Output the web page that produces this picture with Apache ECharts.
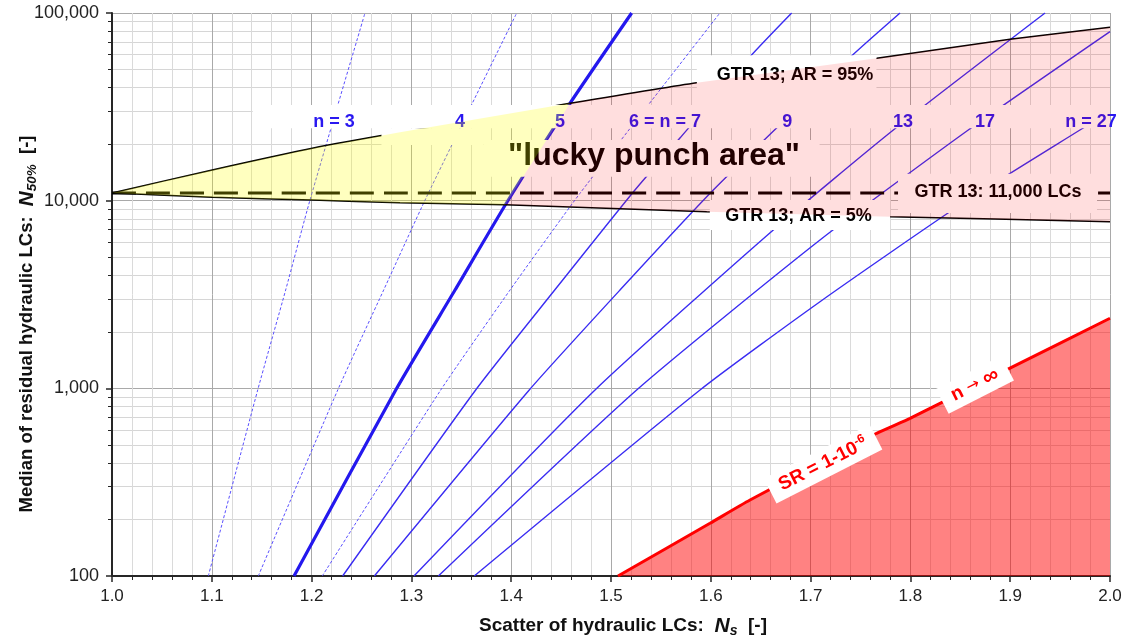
<!DOCTYPE html>
<html><head><meta charset="utf-8">
<script src="https://cdn.jsdelivr.net/npm/echarts@6/dist/echarts.min.js"></script>
<style>html,body{margin:0;padding:0;background:#fff}#c{width:1134px;height:637px}</style>
</head><body><div id="c"></div>
<script>
// ---------- data ----------
const n3X  = [1.0965, 1.146, 1.174, 1.1984, 1.2535];
const n3Y  = [100, 980, 3340, 10080, 100000];
const n4X  = [1.1466, 1.2262, 1.2722, 1.3153, 1.4055];
const n4Y  = [100, 980, 3340, 10500, 100000];
const n5X  = [1.1824, 1.2843, 1.3437, 1.3971, 1.4589, 1.5207];
const n5Y  = [100, 980, 3340, 10080, 33000, 100000];
const n6X  = [1.2107, 1.3294, 1.3988, 1.4689, 1.6091];
const n6Y  = [100, 980, 3340, 10940, 100000];
const n7X  = [1.2311, 1.3644, 1.4436, 1.524, 1.5691, 1.6393, 1.681];
const n7Y  = [100, 980, 3340, 11400, 21570, 58500, 100000];
const n9X  = [1.2629, 1.4181, 1.509, 1.6025, 1.7403, 1.7896];
const n9Y  = [100, 980, 3340, 11400, 58500, 100000];
const n13X = [1.3026, 1.484, 1.6626, 1.7829, 1.9349];
const n13Y = [100, 980, 6980, 23800, 100000];
const n17X = [1.327, 1.5257, 1.7094, 1.858, 2.0];
const n17Y = [100, 980, 6170, 23800, 79500];
const n27X = [1.363, 1.5892, 1.7094, 1.8497, 1.9699, 2.0];
const n27Y = [100, 980, 2895, 9480, 23800, 29800];
const srX  = [1.507, 1.5992, 1.6393, 1.7662, 1.7996, 1.8998, 2.0];
const srY  = [100, 191, 254, 576, 692, 1280, 2362];
const ar95X = [1.0, 1.1005, 1.2007, 1.2886, 1.4589, 1.5858, 1.7662, 1.8998, 2.0];
const ar95Y = [11000, 14570, 19010, 23120, 33000, 42540, 57340, 72450, 83870];
const ar5X  = [1.0, 1.1005, 1.2007, 1.2886, 1.394, 1.5959, 1.7796, 2.0];
const ar5Y  = [11000, 10420, 10080, 9750, 9520, 8735, 8216, 7727];
const gtrX = [1.0, 2.0];
const gtrY = [11000, 11000];

// annotation texts and their anchor values
const nLabelText = ['n = 3', '4', '5', '6 = n = 7', '9', '13', '17', 'n = 27'];
const nLabelX = [1.2224, 1.3487, 1.4489, 1.5541, 1.6767, 1.7926, 1.8747, 1.981];
const nLabelY = [26300, 26300, 26300, 26300, 26300, 26300, 26300, 26300];
const gtrLabelText = ['GTR 13; AR = 95%', 'GTR 13: 11,000 LCs', 'GTR 13; AR = 5%'];
const gtrLabelX = [1.6844, 1.8878, 1.6879];
const gtrLabelY = [46500, 11110, 8233];
const luckyText = ['"lucky punch area"'];
const luckyX = [1.5431];
const luckyY = [17300];
const srLabelText = ['{a|SR = 1-10}{s|-6}', '{a|n }{c|\u2192}{a| }{b|\u221E}'];
const srLabelX = [1.7125, 1.8647];
const srLabelY = [395, 1045];
// white label boxes [x1, y1, x2, y2]
const boxes = [
  [1.141, 24300, 2.0, 32350],
  [1.27, 19800, 1.372, 24300],
  [1.372, 13420, 1.709, 21050],
  [1.586, 32350, 1.766, 59500],
  [1.7876, 8600, 1.987, 13900],
  [1.599, 6980, 1.7796, 10080]
];

// ---------- helpers ----------
const FONT = '"Liberation Sans", Arial, sans-serif';
const zip = (xs, ys) => xs.map((x, i) => [x, ys[i]]);
const BLUE = '#3a2cf2';

function lineSeries(name, xs, ys, style, z) {
  return { name, type: 'line', data: zip(xs, ys), symbol: 'none', silent: true,
    smooth: 0.2,
    lineStyle: style, z: z || 2, clip: true };
}
function labelSeries(name, xs, ys, texts, label, z) {
  return { name, type: 'scatter', data: zip(xs, ys), symbolSize: 1, silent: true,
    itemStyle: { color: 'rgba(0,0,0,0)', opacity: 1 }, z,
    label: Object.assign({ show: true, position: 'inside', fontFamily: FONT, opacity: 1,
      formatter: p => texts[p.dataIndex] }, label) };
}
function polygonSeries(name, pts, fill, z) {
  return { name, type: 'custom', coordinateSystem: 'cartesian2d', silent: true, z,
    data: [pts[0]],
    renderItem: (params, api) => ({ type: 'polygon',
      shape: { points: pts.map(p => api.coord(p)) }, style: { fill } }) };
}

const ar95 = zip(ar95X, ar95Y), ar5 = zip(ar5X, ar5Y);
const yellowPts = ar95.slice(0, 5).concat(ar5.slice(0, 5).reverse());
const pinkPts = ar95.slice(4).concat(ar5.slice(4).reverse());

const fmtThousands = v => String(Math.round(v)).replace(/\B(?=(\d{3})+(?!\d))/g, ',');

const richTitle = size => ({
  b: { fontFamily: FONT, fontSize: size, fontWeight: 'bold', fill: '#111', color: '#111', lineHeight: 24 },
  i: { fontFamily: FONT, fontSize: size + 2, fontWeight: 'bold', fontStyle: 'italic', fill: '#111', color: '#111', lineHeight: 24 },
  sub: { fontFamily: FONT, fontSize: size - 5, fontWeight: 'bold', fontStyle: 'italic', fill: '#111', color: '#111', lineHeight: 14, verticalAlign: 'bottom' }
});

const chart = echarts.init(document.getElementById('c'));
chart.setOption({
  animation: false,
  backgroundColor: '#fff',
  grid: { left: 112, right: 24, top: 13, bottom: 61, containLabel: false },
  xAxis: {
    type: 'value', min: 1.0, max: 2.0, interval: 0.1,
    axisLine: { show: true, onZero: false, lineStyle: { color: '#262626', width: 2 } },
    axisTick: { show: true, length: 6, lineStyle: { color: '#262626', width: 1.5 } },
    minorTick: { show: true, splitNumber: 5, length: 4, lineStyle: { color: '#262626', width: 1 } },
    splitLine: { show: true, lineStyle: { color: '#a9a9a9', width: 1 } },
    minorSplitLine: { show: true, lineStyle: { color: '#dadada', width: 1 } },
    axisLabel: { formatter: v => v.toFixed(1), fontSize: 17, color: '#222', margin: 12, fontFamily: FONT }
  },
  yAxis: {
    type: 'log', logBase: 10, min: 100, max: 100000,
    axisLine: { show: true, onZero: false, lineStyle: { color: '#262626', width: 2 } },
    axisTick: { show: true, length: 6, lineStyle: { color: '#262626', width: 1.5 } },
    minorTick: { show: true, splitNumber: 9, length: 4, lineStyle: { color: '#262626', width: 1 } },
    splitLine: { show: true, lineStyle: { color: '#a9a9a9', width: 1 } },
    minorSplitLine: { show: true, lineStyle: { color: '#d6d6d6', width: 1 } },
    axisLabel: { formatter: v => fmtThousands(v), fontSize: 18, color: '#222', margin: 13, fontFamily: FONT }
  },
  graphic: [
    { type: 'text', x: 27, y: 324, rotation: Math.PI / 2, silent: true,
      style: { text: '{b|Median of residual hydraulic LCs:  }{i|N}{sub|50%}{b|  [-]}',
        align: 'center', verticalAlign: 'middle', textAlign: 'center', textVerticalAlign: 'middle',
        rich: richTitle(18.5) } },
    { type: 'text', x: 623, y: 626, silent: true,
      style: { text: '{b|Scatter of hydraulic LCs:  }{i|N}{sub|s}{b|  [-]}',
        align: 'center', verticalAlign: 'middle', textAlign: 'center', textVerticalAlign: 'middle',
        rich: richTitle(19) } }
  ],
  series: [
    // red n -> infinity line with its area
    { name: 'SR', type: 'line', data: zip(srX, srY), symbol: 'none', silent: true, z: 2,
      smooth: 0.2,
      lineStyle: { color: '#ff0000', width: 3 },
      areaStyle: { color: '#ff0000', opacity: 0.49, origin: 'start' } },
    lineSeries('n=3', n3X, n3Y, { color: '#5a50ff', width: 1, type: [3, 2] }),
    lineSeries('n=4', n4X, n4Y, { color: '#5a50ff', width: 1, type: [3, 2] }),
    lineSeries('n=6', n6X, n6Y, { color: '#5a50ff', width: 1, type: [3, 2] }),
    lineSeries('n=5', n5X, n5Y, { color: '#2418ee', width: 3.2 }),
    lineSeries('n=7', n7X, n7Y, { color: BLUE, width: 1.4 }),
    lineSeries('n=9', n9X, n9Y, { color: BLUE, width: 1.4 }),
    lineSeries('n=13', n13X, n13Y, { color: BLUE, width: 1.4 }),
    lineSeries('n=17', n17X, n17Y, { color: BLUE, width: 1.4 }),
    lineSeries('n=27', n27X, n27Y, { color: BLUE, width: 1.4 }),
    lineSeries('AR95', ar95X, ar95Y, { color: '#000', width: 1.5 }),
    lineSeries('AR5', ar5X, ar5Y, { color: '#000', width: 1.5 }),
    lineSeries('GTR', gtrX, gtrY, { color: '#000', width: 3, type: [24, 10] }),
    // white label boxes
    { name: 'boxes', type: 'custom', coordinateSystem: 'cartesian2d', silent: true, z: 3,
      data: boxes, encode: { x: [0, 2], y: [1, 3] },
      renderItem: (params, api) => {
        const p1 = api.coord([api.value(0), api.value(1)]);
        const p2 = api.coord([api.value(2), api.value(3)]);
        return { type: 'rect', shape: { x: Math.min(p1[0], p2[0]), y: Math.min(p1[1], p2[1]),
          width: Math.abs(p2[0] - p1[0]), height: Math.abs(p2[1] - p1[1]) }, style: { fill: '#ffffff' } };
      } },
    labelSeries('nLabels', nLabelX, nLabelY, nLabelText,
      { fontSize: 18, fontWeight: 'bold', color: '#2a18f0' }, 3.5),
    labelSeries('gtrLabels', gtrLabelX, gtrLabelY, gtrLabelText,
      { fontSize: 18, fontWeight: 'bold', color: '#000' }, 3.5),
    labelSeries('lucky', luckyX, luckyY, luckyText,
      { fontSize: 32, fontWeight: 'bold', color: '#000' }, 3.5),
    // translucent area overlays
    polygonSeries('yellow', yellowPts, 'rgba(255,255,0,0.25)', 4),
    polygonSeries('pink', pinkPts, 'rgba(255,0,0,0.13)', 4),
    // red labels on the n -> infinity line
    labelSeries('srLabels', srLabelX, srLabelY, srLabelText,
      { rotate: 27, backgroundColor: '#fff', padding: [3, 11],
        rich: {
          a: { fontFamily: FONT, fontSize: 19, fontWeight: 'bold', color: '#ff0000', lineHeight: 22 },
          b: { fontFamily: FONT, fontSize: 22, fontWeight: 'bold', color: '#ff0000', lineHeight: 22 },
          c: { fontFamily: '"DejaVu Sans", sans-serif', fontSize: 16, color: '#ff0000', lineHeight: 22 },
          s: { fontFamily: FONT, fontSize: 12, fontWeight: 'bold', color: '#ff0000', lineHeight: 12, verticalAlign: 'top' }
        } }, 6)
  ]
});
</script>
</body></html>
